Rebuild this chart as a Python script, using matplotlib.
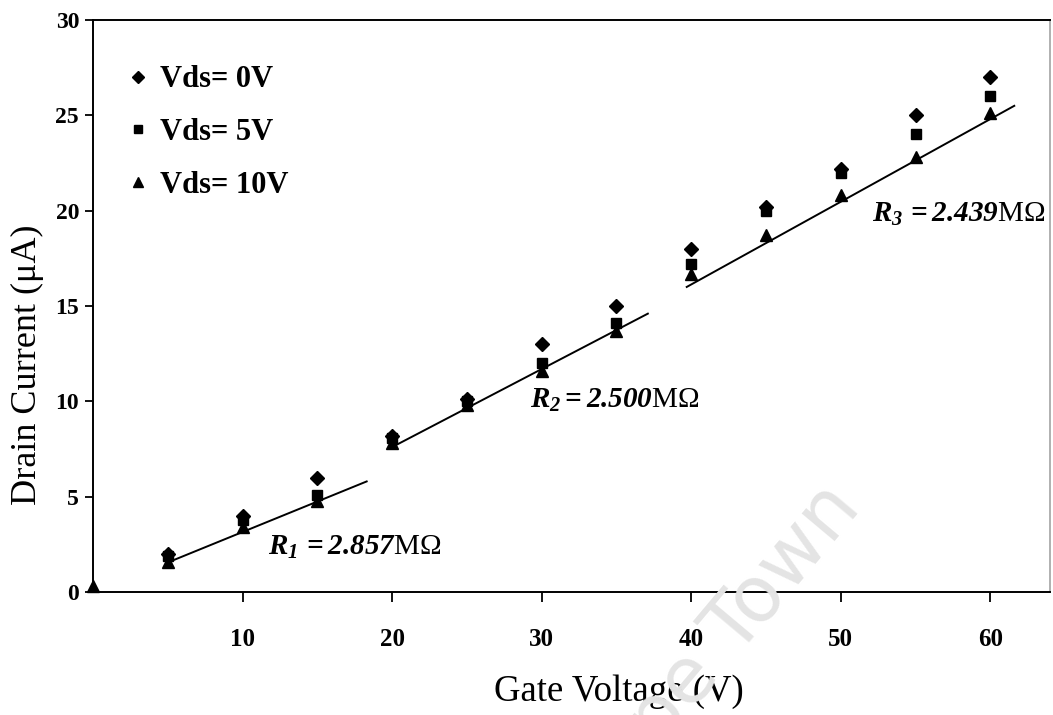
import matplotlib
matplotlib.use("Agg")
import matplotlib.pyplot as plt

plt.rcParams['font.family'] = ['Liberation Serif', 'DejaVu Serif']
plt.rcParams['mathtext.fontset'] = 'custom'
plt.rcParams['mathtext.rm'] = 'Liberation Serif'
plt.rcParams['mathtext.it'] = 'Liberation Serif:italic:bold'
plt.rcParams['mathtext.bf'] = 'Liberation Serif:italic:bold'

gate_v = [5, 10, 15, 20, 25, 30, 35, 40, 45, 50, 55, 60]
i_vds0 = [2.0, 4.0, 6.0, 8.2, 10.1, 13.0, 15.0, 18.0, 20.2, 22.2, 25.0, 27.0]
i_vds5 = [1.9, 3.8, 5.1, 8.1, 10.0, 12.0, 14.1, 17.2, 20.0, 22.0, 24.0, 26.0]
gate_v10 = [0, 5, 10, 15, 20, 25, 30, 35, 40, 45, 50, 55, 60]
i_vds10 = [0.3, 1.6, 3.4, 4.8, 7.8, 9.8, 11.6, 13.7, 16.7, 18.7, 20.8, 22.8, 25.1]

fit1_x = [5, 18.3]
fit1_y = [1.55, 5.8]
fit2_x = [20, 37.1]
fit2_y = [7.6, 14.6]
fit3_x = [39.7, 61.6]
fit3_y = [16.0, 25.5]

fit_labels = [r'$R_\mathbf{1}\,\mathbf{{=}2.857}\mathrm{M\Omega}$',
              r'$R_\mathbf{2}\mathbf{{=}2.500}\mathrm{M\Omega}$',
              r'$R_\mathbf{3}\,\mathbf{{=}2.439}\mathrm{M\Omega}$']
label_pos = [(11.7, 1.95), (29.2, 9.65), (52.1, 19.4)]

xticks = [10, 20, 30, 40, 50, 60]
yticks = [0, 5, 10, 15, 20, 25, 30]

fig = plt.figure(figsize=(10.53, 7.15), dpi=100)
ax = fig.add_axes([0.0883, 0.172, 0.909, 0.8])

for fx, fy in [(fit1_x, fit1_y), (fit2_x, fit2_y), (fit3_x, fit3_y)]:
    ax.plot(fx, fy, color='black', lw=1.4, zorder=2)

ax.plot(gate_v, i_vds0, linestyle='none', marker='D', ms=7, color='black',
        label='Vds= 0V', zorder=3)
ax.plot(gate_v, i_vds5, linestyle='none', marker='s', ms=7, color='black',
        label='Vds= 5V', zorder=3)
ax.plot(gate_v10, i_vds10, linestyle='none', marker='^', ms=8.5, color='black',
        label='Vds= 10V', zorder=4, clip_on=False)

for lab, (lx, ly) in zip(fit_labels, label_pos):
    ax.text(lx, ly, lab, fontsize=21, color='black', zorder=5, va='baseline')

ax.set_xlim(0, 64)
ax.set_ylim(0, 30)
ax.set_xticks(xticks)
ax.set_yticks(yticks)
ax.tick_params(axis='x', direction='out', length=7, width=1.3, pad=19, labelsize=18)
ax.tick_params(axis='y', direction='out', length=6, width=1.3, pad=4, labelsize=17)
for lab in ax.get_xticklabels() + ax.get_yticklabels():
    lab.set_fontweight('bold')
for s in ax.spines.values():
    s.set_linewidth(1.4)
ax.spines['right'].set_color('#b0b0b0')

ax.set_xlabel('Gate Voltage (V)', fontsize=26.5)
ax.xaxis.set_label_coords((619 - 93) / 957, (592 - 692) / 572)
ax.xaxis.label.set_va('center')
ax.set_ylabel('Drain Current (\u03bcA)', fontsize=26)
ax.yaxis.set_label_coords((28 - 93) / 957, (592 - 365) / 572)
ax.yaxis.label.set_va('center')

leg = ax.legend(loc='upper left', bbox_to_anchor=(0.0345, 0.921), frameon=False,
                prop={'family': 'Liberation Serif', 'weight': 'bold', 'size': 22},
                handletextpad=0.3, labelspacing=0.78, handlelength=0.8,
                borderpad=0, borderaxespad=0, markerscale=0.9)

fig.text(0.675, 0.085, 'Cape Town', fontsize=56, color='#e4e4e4', rotation=50,
         ha='center', va='center', zorder=0, family='DejaVu Sans')

fig.savefig('out.png', dpi=100)
